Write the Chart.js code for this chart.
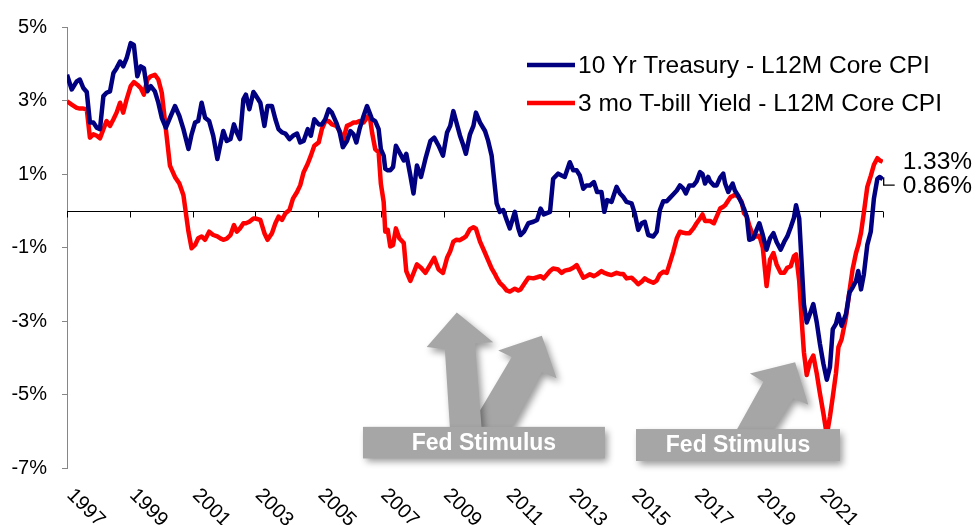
<!DOCTYPE html>
<html>
<head>
<meta charset="utf-8">
<script src="https://cdn.jsdelivr.net/npm/chart.js@4.4.0/dist/chart.umd.min.js"></script>
<style>
  html, body { margin: 0; padding: 0; background: #fff; }
</style>
</head>
<body>
<canvas id="myChart" width="976" height="525"></canvas>
<script>
// sample dates (decimal years)
const years = [
  1997.00, 1997.15, 1997.31, 1997.41, 1997.52, 1997.63, 1997.73, 1997.84, 1997.95, 1998.05,
  1998.16, 1998.26, 1998.37, 1998.48, 1998.58, 1998.69, 1998.79, 1998.90, 1999.03, 1999.13,
  1999.24, 1999.35, 1999.45, 1999.56, 1999.67, 1999.80, 1999.91, 2000.02, 2000.15, 2000.28,
  2000.44, 2000.58, 2000.71, 2000.87, 2000.97, 2001.08, 2001.18, 2001.29, 2001.40, 2001.53,
  2001.66, 2001.79, 2001.90, 2001.98, 2002.09, 2002.21, 2002.32, 2002.41, 2002.51, 2002.62,
  2002.70, 2002.81, 2002.94,
  2003.00, 2003.16, 2003.29, 2003.39, 2003.53, 2003.64, 2003.74, 2003.85, 2003.96, 2004.09,
  2004.20, 2004.33, 2004.43, 2004.54, 2004.67, 2004.77, 2004.88, 2005.02, 2005.12, 2005.23,
  2005.34, 2005.44, 2005.58, 2005.69, 2005.79, 2005.92, 2006.03, 2006.13, 2006.22, 2006.32,
  2006.45, 2006.56, 2006.64, 2006.72, 2006.82, 2006.93, 2007.00, 2007.09, 2007.14, 2007.22,
  2007.30, 2007.39, 2007.48, 2007.59, 2007.73, 2007.81, 2007.94, 2008.04, 2008.15, 2008.28,
  2008.42, 2008.58, 2008.70, 2008.84, 2008.98, 2009.11, 2009.21,
  2009.31, 2009.41, 2009.52, 2009.62, 2009.71, 2009.84, 2009.95, 2010.03, 2010.16, 2010.32,
  2010.42, 2010.53, 2010.64, 2010.69,
  2010.79, 2010.90, 2011.01, 2011.11, 2011.27, 2011.38, 2011.45, 2011.56, 2011.70, 2011.86,
  2011.98, 2012.09, 2012.19, 2012.39, 2012.49, 2012.65, 2012.76, 2012.86, 2013.02, 2013.13,
  2013.24, 2013.34, 2013.45, 2013.55, 2013.66, 2013.79, 2013.89, 2014.03, 2014.12, 2014.21,
  2014.35, 2014.51, 2014.62, 2014.72, 2014.83, 2014.99, 2015.09, 2015.20, 2015.31, 2015.41,
  2015.52,
  2015.68, 2015.79, 2015.89, 2016.00, 2016.11, 2016.21, 2016.32, 2016.43, 2016.53, 2016.64,
  2016.72, 2016.83, 2016.96, 2017.06, 2017.17, 2017.25, 2017.33, 2017.43, 2017.49, 2017.61,
  2017.70, 2017.81, 2017.91, 2017.97, 2018.07, 2018.15, 2018.21, 2018.28, 2018.39, 2018.50,
  2018.57, 2018.66, 2018.74, 2018.87, 2018.97, 2019.06, 2019.17, 2019.29, 2019.40, 2019.51,
  2019.61, 2019.74, 2019.85, 2019.95, 2020.06, 2020.16, 2020.23, 2020.33, 2020.41, 2020.48,
  2020.57, 2020.67, 2020.78, 2020.89, 2020.99, 2021.10, 2021.21, 2021.31, 2021.40, 2021.50,
  2021.58, 2021.68, 2021.82, 2021.93, 2022.03, 2022.14, 2022.21, 2022.30, 2022.39, 2022.50,
  2022.61, 2022.71, 2022.82, 2022.90, 2022.99
];

// 10 Yr Treasury minus trailing 12m core CPI (%)
const tenYrSpread = [
  3.70, 3.30, 3.52, 3.57, 3.34, 3.23, 2.40, 2.40, 2.26, 2.22,
  3.12, 3.21, 3.25, 3.75, 3.88, 4.06, 3.93, 4.15, 4.56, 4.51,
  3.66, 3.93, 3.88, 3.25, 3.39, 3.25, 2.94, 2.53, 2.26, 2.53,
  2.85, 2.58, 2.22, 1.68, 2.08, 2.40, 2.44, 2.94, 2.53, 2.44,
  2.04, 1.41, 1.86, 2.17, 1.90, 1.95, 2.35, 2.13, 1.95, 3.03,
  3.16, 2.76, 3.23,
  3.16, 2.94, 2.31, 2.85, 2.85, 2.49, 2.22, 2.13, 2.10, 1.95,
  2.04, 2.10, 1.86, 1.90, 2.22, 2.04, 2.49, 2.35, 2.35, 2.49,
  2.76, 2.67, 2.40, 2.13, 1.73, 1.90, 2.17, 2.08, 1.86, 2.22,
  2.58, 2.85, 2.67, 2.49, 2.44, 2.22, 1.68, 1.50, 1.14, 1.10,
  1.10, 1.19, 1.77, 1.59, 1.37, 1.55, 0.96, 0.47, 1.23, 0.92,
  1.41, 1.90, 1.99, 1.77, 1.50, 2.13, 2.31,
  2.71, 2.40, 2.05, 1.80, 1.55, 2.08, 2.31, 2.67, 2.40, 2.17,
  1.90, 1.50, 0.60, 0.20,
  -0.03, 0.02, -0.25, -0.48, -0.03, -0.48, -0.66, -0.57, -0.34, -0.30,
  -0.25, 0.06, -0.10, -0.03, 0.87, 1.01, 0.96, 0.92, 1.32, 1.10,
  1.10, 0.96, 0.60, 0.69, 0.69, 0.78, 0.51, 0.51, -0.03, 0.29,
  0.24, 0.65, 0.47, 0.38, 0.24, 0.20, -0.07, -0.52, -0.34, -0.30,
  -0.66,
  -0.70, -0.57, 0.02, 0.26, 0.26, 0.35, 0.45, 0.55, 0.69, 0.60,
  0.47, 0.69, 0.69, 0.80, 1.05, 1.00, 0.74, 0.92, 0.80, 0.69,
  0.69, 0.90, 1.01, 0.74, 0.51, 0.65, 0.74, 0.55, 0.40, 0.20,
  0.06, -0.16, -0.79, -0.75, -0.52, -0.34, -0.66, -1.06, -0.75, -0.61,
  -0.85, -1.06, -0.85, -0.70, -0.45, -0.20, 0.15, -0.21, -1.46, -2.54,
  -3.04, -2.81, -2.54, -3.04, -3.62, -4.16, -4.60, -4.25, -3.22, -3.08,
  -2.81, -3.13, -2.81, -2.23, -2.09, -1.91, -1.64, -2.14, -1.73, -0.93,
  -0.57, 0.33, 0.87, 0.92, 0.86
];

// 3 mo T-bill yield minus trailing 12m core CPI (%)
const billSpread = [
  2.98, 2.89, 2.80, 2.78, 2.78, 2.76, 1.99, 2.08, 2.04, 1.97,
  2.22, 2.44, 2.31, 2.49, 2.67, 2.94, 2.67, 3.03, 3.39, 3.50,
  3.43, 3.34, 3.16, 3.57, 3.66, 3.70, 3.57, 3.21, 2.22, 1.23,
  0.92, 0.74, 0.42, -0.57, -1.02, -0.93, -0.75, -0.70, -0.79, -0.57,
  -0.66, -0.70, -0.76, -0.79, -0.76, -0.66, -0.39, -0.57, -0.48, -0.34,
  -0.34, -0.30, -0.21,
  -0.21, -0.25, -0.61, -0.79, -0.61, -0.34, -0.16, -0.25, -0.07, 0.02,
  0.33, 0.51, 0.69, 1.05, 1.28, 1.50, 1.77, 1.86, 2.22, 2.44,
  2.44, 2.35, 2.31, 2.17, 1.90, 2.31, 2.35, 2.40, 2.40, 2.44,
  2.40, 2.53, 2.62, 2.13, 1.68, 1.59, 0.74, 0.24, -0.57, -0.52,
  -0.97, -0.93, -0.48, -0.75, -0.88, -1.64, -1.91, -1.70, -1.46, -1.55,
  -1.69, -1.46, -1.28, -1.60, -1.69, -1.28, -1.10,
  -0.84, -0.79, -0.80, -0.75, -0.70, -0.50, -0.45, -0.49, -0.84, -1.15,
  -1.35, -1.57, -1.73, -1.82,
  -1.96, -2.05, -2.17, -2.20, -2.12, -2.17, -2.14, -2.00, -1.82, -1.84,
  -1.81, -1.78, -1.84, -1.64, -1.57, -1.60, -1.69, -1.63, -1.60, -1.55,
  -1.48, -1.64, -1.82, -1.78, -1.73, -1.78, -1.73, -1.64, -1.69, -1.72,
  -1.75, -1.69, -1.72, -1.72, -1.84, -1.82, -1.90, -2.00, -1.93, -1.84,
  -1.90,
  -1.96, -1.90, -1.73, -1.66, -1.69, -1.42, -1.11, -0.75, -0.57, -0.60,
  -0.61, -0.61, -0.48, -0.34, -0.21, -0.10, -0.28, -0.28, -0.28, -0.34,
  -0.16, 0.06, 0.11, 0.15, 0.28, 0.38, 0.40, 0.44, 0.38, 0.24,
  -0.07, -0.16, -0.40, -0.70, -0.70, -0.68, -1.00, -2.05, -1.33, -1.15,
  -1.46, -1.69, -1.69, -1.55, -1.51, -1.24, -1.19, -1.91, -2.99, -3.85,
  -4.47, -4.12, -3.94, -4.43, -4.97, -5.51, -6.10, -5.60, -5.06, -4.43,
  -3.71, -3.50, -2.90, -2.20, -1.60, -1.15, -0.95, -0.60, -0.05, 0.65,
  0.95, 1.25, 1.43, 1.37, 1.33
];

const yearLabels = ["1997", "1999", "2001", "2003", "2005", "2007", "2009",
                    "2011", "2013", "2015", "2017", "2019", "2021"];
const seriesNames = ["10 Yr Treasury - L12M Core CPI", "3 mo T-bill Yield - L12M Core CPI"];
const calloutText = "Fed Stimulus";

const FONT = "'Liberation Sans', Arial, sans-serif";
const BLUE = "#000080";
const RED = "#ff0000";
const GREY = "#a6a6a6";

// callouts, in (year, %) so they sit on the axes
const calloutBoxes = [
  { x0: 2006.43, x1: 2014.14, y0: -5.88, y1: -6.74 },
  { x0: 2015.13, x1: 2021.63, y0: -5.94, y1: -6.81 }
];
const arrows = [
  // right arrow of the pair, drawn first so the other overlaps it
  [[2012.13, -3.40], [2012.60, -4.56], [2012.13, -4.39], [2011.17, -5.90], [2009.84, -5.90], [2011.17, -3.98], [2010.74, -3.80]],
  [[2009.42, -2.77], [2010.58, -3.58], [2010.00, -3.61], [2010.21, -5.90], [2009.20, -5.90], [2009.04, -3.77], [2008.46, -3.71]],
  [[2020.20, -4.12], [2020.62, -5.28], [2020.14, -5.10], [2019.50, -5.96], [2018.34, -5.96], [2019.19, -4.65], [2018.76, -4.43]]
];

const decor = {
  id: "decor",
  beforeDatasetsDraw(chart) {
    const { ctx } = chart;
    const x = chart.scales.x, y = chart.scales.y;
    const y0 = Math.round(y.getPixelForValue(0)) + 0.5;
    ctx.save();
    ctx.strokeStyle = "#000";
    ctx.lineWidth = 1;
    ctx.beginPath();
    ctx.moveTo(x.getPixelForValue(x.min), y0);
    ctx.lineTo(x.getPixelForValue(x.max), y0);
    for (let yr = x.min; yr <= x.max; yr += 2) {
      const px = Math.round(x.getPixelForValue(yr)) + 0.5;
      ctx.moveTo(px, y0);
      ctx.lineTo(px, y0 + 6);
    }
    ctx.stroke();
    ctx.restore();
  },
  afterDatasetsDraw(chart) {
    const { ctx } = chart;
    const x = chart.scales.x, y = chart.scales.y;
    ctx.save();
    ctx.shadowColor = "rgba(0,0,0,0.4)";
    ctx.shadowBlur = 7;
    ctx.shadowOffsetX = 3;
    ctx.shadowOffsetY = 4;
    ctx.fillStyle = GREY;
    arrows.forEach((pts) => {
      ctx.beginPath();
      pts.forEach(([a, b], i) => {
        const px = x.getPixelForValue(a), py = y.getPixelForValue(b);
        if (i === 0) ctx.moveTo(px, py); else ctx.lineTo(px, py);
      });
      ctx.closePath();
      ctx.fill();
    });
    calloutBoxes.forEach((b) => {
      const l = x.getPixelForValue(b.x0), r = x.getPixelForValue(b.x1);
      const t = y.getPixelForValue(b.y0), btm = y.getPixelForValue(b.y1);
      ctx.fillRect(l, t, r - l, btm - t);
    });
    ctx.shadowColor = "transparent";
    ctx.fillStyle = "#fff";
    ctx.font = "bold 23px " + FONT;
    ctx.textAlign = "center";
    ctx.textBaseline = "middle";
    calloutBoxes.forEach((b) => {
      const cx = (x.getPixelForValue(b.x0) + x.getPixelForValue(b.x1)) / 2;
      const cy = (y.getPixelForValue(b.y0) + y.getPixelForValue(b.y1)) / 2 + 1;
      ctx.fillText(calloutText, cx, cy);
    });
    ctx.restore();
  },
  afterDraw(chart) {
    const { ctx, chartArea } = chart;
    const x = chart.scales.x, y = chart.scales.y;
    ctx.save();
    // rotated year labels
    ctx.fillStyle = "#000";
    ctx.font = "20px " + FONT;
    ctx.textAlign = "left";
    ctx.textBaseline = "middle";
    yearLabels.forEach((lab) => {
      ctx.save();
      ctx.translate(x.getPixelForValue(+lab) + 3, chartArea.bottom + 24);
      ctx.rotate(Math.PI / 4);
      ctx.fillText(lab, 0, 0);
      ctx.restore();
    });

    // legend
    ctx.font = "24.5px " + FONT;
    chart.data.datasets.forEach((ds, i) => {
      const ly = 65 + i * 38;
      ctx.strokeStyle = ds.borderColor;
      ctx.lineWidth = 4.5;
      ctx.beginPath();
      ctx.moveTo(527, ly);
      ctx.lineTo(575, ly);
      ctx.stroke();
      ctx.fillText(ds.label, 578, ly + 1);
    });

    // end-of-series value labels
    const xEnd = x.getPixelForValue(years[years.length - 1]);
    const lastBlue = tenYrSpread[tenYrSpread.length - 1];
    const lastRed = billSpread[billSpread.length - 1];
    const yB = y.getPixelForValue(lastBlue);
    const yR = y.getPixelForValue(lastRed);
    ctx.fillText(lastRed.toFixed(2) + "%", xEnd + 20, yR);
    ctx.fillText(lastBlue.toFixed(2) + "%", xEnd + 20, yB + 7);
    ctx.strokeStyle = "#000";
    ctx.lineWidth = 1.3;
    ctx.beginPath();
    ctx.moveTo(xEnd + 1, yB - 2);
    ctx.lineTo(xEnd + 1, yB + 6);
    ctx.lineTo(xEnd + 12, yB + 6);
    ctx.stroke();
    ctx.restore();
  }
};

const toPoints = (vals) => years.map((yr, i) => ({ x: yr, y: vals[i] }));

const ctx = document.getElementById("myChart").getContext("2d");
const spreadChart = new Chart(ctx, {
  type: "line",
  data: {
    datasets: [
      {
        label: seriesNames[0],
        data: toPoints(tenYrSpread),
        borderColor: BLUE,
        backgroundColor: BLUE,
        borderWidth: 4.5,
        pointRadius: 0,
        tension: 0,
        borderJoinStyle: "round"
      },
      {
        label: seriesNames[1],
        data: toPoints(billSpread),
        borderColor: RED,
        backgroundColor: RED,
        borderWidth: 4.5,
        pointRadius: 0,
        tension: 0,
        borderJoinStyle: "round"
      }
    ]
  },
  options: {
    responsive: false,
    animation: false,
    devicePixelRatio: 1,
    layout: { padding: { left: 0, top: 23, right: 93, bottom: 57 } },
    scales: {
      x: {
        type: "linear",
        min: 1997,
        max: 2023,
        display: false
      },
      y: {
        min: -7,
        max: 5,
        ticks: {
          stepSize: 2,
          padding: 15,
          color: "#000",
          font: { size: 20, family: FONT },
          callback: (v) => v + "%"
        },
        grid: { drawOnChartArea: false, drawTicks: true, tickLength: 5, color: "#868686" },
        border: { color: "#868686", width: 1 },
        afterFit: (scale) => { scale.width = 67; }
      }
    },
    plugins: {
      legend: { display: false },
      tooltip: { enabled: false }
    }
  },
  plugins: [decor]
});
</script>
</body>
</html>
